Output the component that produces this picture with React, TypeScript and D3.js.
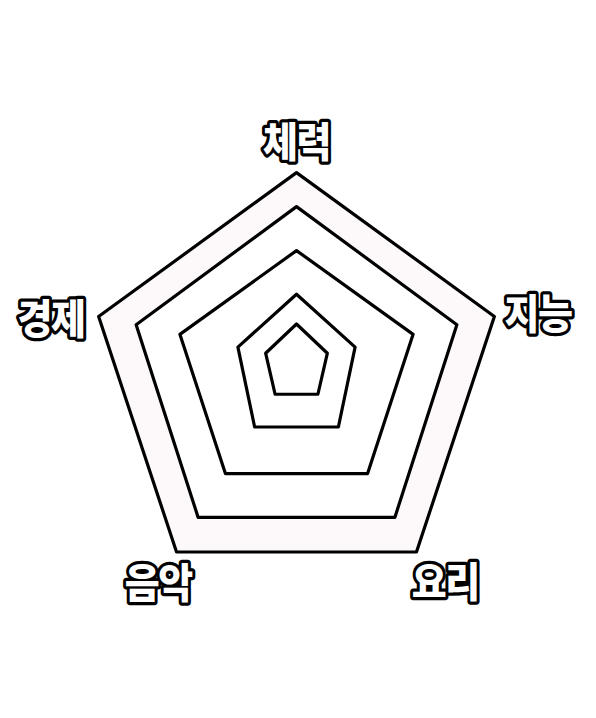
import React from "react";
import * as d3 from "d3";

// Axis labels (clockwise from top)
const axes = ["체력", "지능", "요리", "음악", "경제"];
// Axis directions in degrees, clockwise from straight up (as drawn in the picture)
const axisAngles = [0, 77.6, 148, 212, 282.4];
// Grid rings, outermost to innermost: one value per axis (0–100 scale)
const ring1 = [93.7, 101.3, 113.2, 113.2, 101.3];
const ring2 = [76.7, 82.1, 92.8, 92.8, 82.1];
const ring3 = [54.7, 59.7, 67.0, 67.0, 59.7];
const ring4 = [32.9, 30.0, 39.5, 39.5, 30.0];
const ring5 = [18.0, 15.8, 20.2, 20.2, 15.8];
const rings = [ring1, ring2, ring3, ring4, ring5];
// Where each axis label sits: direction (degrees) and distance (0–100 scale)
const labelAngles = [0, 78.5, 145.8, 212.2, 280.2];
const labelLevels = [110.5, 123.2, 132.3, 129.8, 124.7];

const W = 596;
const H = 718;
const cx = 296.5;
const cy = 360;

export default function App() {
  const r = d3.scaleLinear().domain([0, 100]).range([0, 200]);
  const toRad = (deg: number) => (deg * Math.PI) / 180;
  const line = d3
    .lineRadial<number>()
    .angle((_, i) => toRad(axisAngles[i]))
    .radius((d) => r(d))
    .curve(d3.curveLinearClosed);

  const fills = ["#fdf9fb", "#ffffff", "#ffffff", "#ffffff", "#ffffff"];

  return (
    <svg
      width={W}
      height={H}
      style={{ position: "absolute", left: 0, top: 0, background: "#ffffff" }}
    >
      <g transform={`translate(${cx},${cy})`}>
        {rings.map((ring, i) => (
          <path
            key={i}
            d={line(ring) || ""}
            fill={fills[i]}
            stroke="#000"
            strokeWidth={3.2}
            strokeLinejoin="round"
          />
        ))}
        {axes.map((name, i) => {
          const a = toRad(labelAngles[i]);
          const rr = r(labelLevels[i]);
          const x = rr * Math.sin(a);
          const y = -rr * Math.cos(a);
          return (
            <g key={name} transform={`translate(${x},${y}) scale(1,1.08)`}>
              <text
                x={0}
                y={0}
                textAnchor="middle"
                dominantBaseline="central"
                fontFamily="'Noto Sans CJK KR', 'Noto Sans', sans-serif"
                fontWeight={900}
                fontSize={38}
                letterSpacing={-1.5}
                fill="#fff"
                stroke="#000"
                strokeWidth={6}
                strokeLinejoin="round"
                paintOrder="stroke"
              >
                {name}
              </text>
            </g>
          );
        })}
      </g>
    </svg>
  );
}
